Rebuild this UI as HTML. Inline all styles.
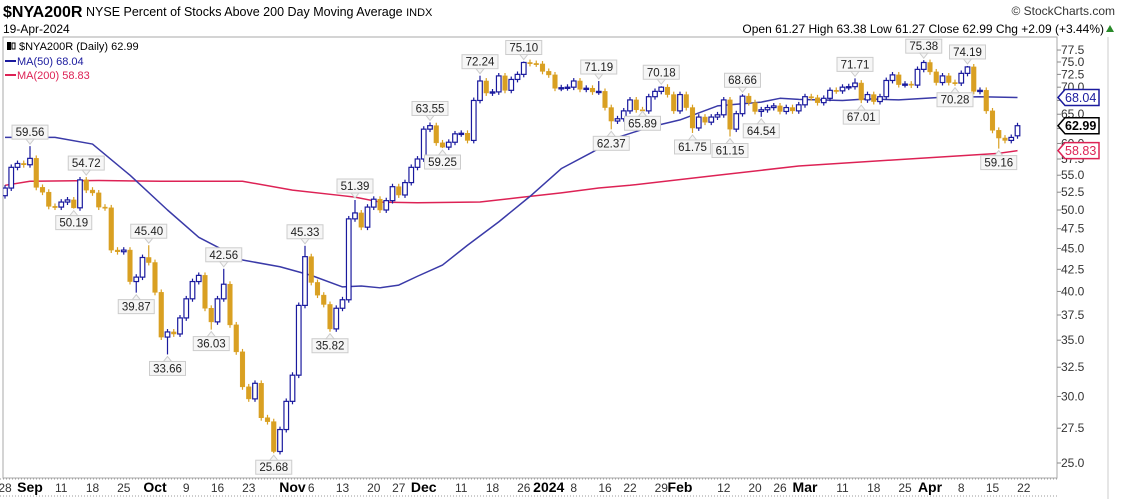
<!DOCTYPE html>
<html><head><meta charset="utf-8">
<style>
body{margin:0;background:#fff;width:1121px;height:499px;overflow:hidden;font-family:"Liberation Sans",sans-serif;}
svg{display:block}
</style></head>
<body>
<svg id="chart" width="1121" height="499" xmlns="http://www.w3.org/2000/svg" font-family="Liberation Sans, sans-serif">
  <text x="3" y="17" font-size="16" font-weight="bold" fill="#000">$NYA200R</text>
  <text x="86" y="16" font-size="12.5" fill="#000">NYSE Percent of Stocks Above 200 Day Moving Average <tspan font-size="11">INDX</tspan></text>
  <text x="1115" y="15" font-size="12" fill="#333" text-anchor="end">© StockCharts.com</text>
  <text x="3" y="33" font-size="12" fill="#000">19-Apr-2024</text>
  <text x="1104" y="33" font-size="12" fill="#000" text-anchor="end">Open 61.27  High 63.38  Low 61.27  Close 62.99  Chg +2.09 (+3.44%)</text>
  <polygon points="1106,32 1114,32 1110,25" fill="#2a8a2a"/>
  <rect x="3" y="37" width="1054" height="441" fill="#fff" stroke="#aaa" stroke-width="1"/>
  <line x1="1108" y1="37" x2="1108" y2="499" stroke="#ccc"/>
  <g id="yaxis"></g>
  <g id="xaxis"></g>
  <g id="plot" clip-path="url(#clip)"></g>
  <defs><clipPath id="clip"><rect x="3" y="37" width="1054" height="441"/></clipPath></defs>
  <g id="tags"></g>
  <g>
    <rect x="7" y="42" width="4" height="8" fill="#000"/>
    <rect x="12" y="43" width="3" height="6" fill="none" stroke="#000"/>
    <text x="19" y="50" font-size="11" fill="#000">$NYA200R (Daily) 62.99</text>
    <line x1="5" y1="61" x2="16" y2="61" stroke="#1a1a9e" stroke-width="2"/>
    <text x="17" y="65" font-size="11" fill="#1a1a9e">MA(50) 68.04</text>
    <line x1="5" y1="75" x2="16" y2="75" stroke="#dd2255" stroke-width="2"/>
    <text x="17" y="79" font-size="11" fill="#dd2255">MA(200) 58.83</text>
  </g>
</svg>
<script>
const closes=[53.1,56.2,56.8,56.6,57.6,53.2,52.5,50.5,50.4,51.1,
51.4,50.3,54.3,52.8,52.4,50.4,50.3,44.8,44.6,44.8,
41.1,41.6,43.9,43.3,39.9,35.3,35.8,35.6,37.2,39.2,
41.1,41.8,38.2,36.8,39.2,40.8,36.5,33.9,30.8,29.8,
31.1,28.3,28.0,25.8,27.4,29.6,31.8,38.5,44.0,41.0,
39.6,38.6,36.1,38.2,39.1,48.8,49.6,47.7,50.4,51.5,
50.0,51.3,53.3,52.1,53.9,56.2,57.5,62.4,63.0,60.1,
59.4,60.2,61.6,61.7,60.5,67.5,71.2,68.9,69.1,72.2,
69.4,71.5,72.5,74.9,74.7,74.6,73.1,72.4,69.8,69.9,
70.0,71.2,69.6,69.8,69.1,69.2,66.2,63.8,64.2,65.6,
67.6,65.8,65.6,68.2,69.2,70.0,68.6,65.6,68.6,66.2,
62.6,64.5,63.6,64.5,64.9,67.6,62.4,65.1,68.3,67.1,
65.5,65.8,66.2,66.5,65.5,66.2,65.6,66.7,68.2,68.0,
67.1,67.9,69.4,69.3,70.0,70.1,70.8,67.6,68.6,67.3,
68.2,71.3,72.4,70.5,70.6,70.4,73.5,74.9,73.0,70.9,
72.2,70.9,70.8,72.7,74.0,69.2,69.4,65.6,62.2,60.9,
60.5,61.0,62.99];
const firstOpen=52.0;
const lastOpen=61.27;
const annIdx=[4,11,13,21,23,26,33,35,43,48,52,56,68,70,76,83,95,97,102,105,110,116,118,121,136,137,147,152,154,159];
const annVal=[59.56,50.19,54.72,39.87,45.40,33.66,36.03,42.56,25.68,45.33,35.82,51.39,63.55,59.25,72.24,75.10,71.19,62.37,65.89,70.18,61.75,61.15,68.66,64.54,71.71,67.01,75.38,70.28,74.19,59.16];
const annType=["h","l","h","l","h","l","l","h","l","h","l","h","h","l","h","h","h","l","l","h","l","l","h","l","h","l","h","l","h","l"];
const ma50Idx=[0,8,14,20,26,31,38,44,49,54,57,60,63,66,70,74,79,84,89,94,98,103,108,114,121,124,127,134,138,143,150,156,162];
const ma50Val=[61.0,61.0,59.9,55.0,50.0,46.4,43.6,42.8,41.8,40.5,40.6,40.4,40.7,41.7,43.0,45.4,48.4,51.9,56.0,58.6,61.0,62.7,64.0,66.5,67.2,67.9,67.7,67.5,67.8,67.6,68.1,68.2,68.04];
const ma200Idx=[0,4,15,25,38,46,54,56,60,66,76,82,89,95,100,114,127,143,159,162];
const ma200Val=[53.5,54.1,54.2,54.1,54.1,52.8,52.0,51.8,51.1,51.0,51.1,51.7,52.4,53.1,53.5,55.0,56.4,57.4,58.4,58.83];
const yTicks=["25.0","27.5","30.0","32.5","35.0","37.5","40.0","42.5","45.0","47.5","50.0","52.5","55.0","57.5","60.0","62.5","65.0","67.5","70.0","72.5","75.0","77.5"];
const xLabelIdx=[0,4,9,14,19,24,29,34,39,46,49,54,59,63,67,73,78,83,87,91,96,100,105,108,115,120,124,128,134,139,144,148,153,158,163];
const xLabelText=["28","Sep","11","18","25","Oct","9","16","23","Nov","6","13","20","27","Dec","11","18","26","2024","8","16","22","29","Feb","12","20","26","Mar","11","18","25","Apr","8","15","22"];
const xLabelBold=[0,1,0,0,0,1,0,0,0,1,0,0,0,0,1,0,0,0,1,0,0,0,0,1,0,0,0,1,0,0,0,1,0,0,0];
const tagVals=[68.04,62.99,58.83];
const tagColors=["#1a1a9e","#000","#dd2255"];

const NS="http://www.w3.org/2000/svg";
const X=i=>5+i*6.25;
const Y=v=>210-365*Math.log(v/50);
function mk(tag,attrs,parent){const e=document.createElementNS(NS,tag);for(const k in attrs)e.setAttribute(k,attrs[k]);parent.appendChild(e);return e;}
const plot=document.getElementById('plot'),yax=document.getElementById('yaxis'),xax=document.getElementById('xaxis'),tags=document.getElementById('tags');

yTicks.forEach(t=>{const y=Y(parseFloat(t));
 const l=mk('line',{x1:1057,y1:y,x2:1061,y2:y,stroke:'#888'},yax);
 
 
 const tx=mk('text',{x:1061,y:y+4,'font-size':12,fill:'#333'},yax);tx.textContent=t;
 
 
});
const ab=mk('line',{x1:0,y1:479,x2:1057,y2:479,stroke:'#999','stroke-dasharray':'1,2'},xax);


const ab2=mk('line',{x1:0,y1:496,x2:1057,y2:496,stroke:'#999','stroke-dasharray':'1,2'},xax);


xLabelIdx.forEach((ix,k)=>{
 const b=xLabelBold[k];
 const tx=mk('text',{x:X(ix),y:492,'font-size':b?14:12,'font-weight':b?'bold':'normal','text-anchor':'middle',fill:b?'#000':'#333'},xax);
 tx.textContent=xLabelText[k];
 
 
});
function maLine(idx,val,color,name){
 const pts=idx.map((ix,k)=>X(ix)+','+Y(val[k])).join(' ');
 const p=mk('polyline',{points:pts,fill:'none',stroke:color,'stroke-width':1.5,'stroke-linejoin':'round'},plot);
 
 
}
maLine(ma200Idx,ma200Val,'#dd2255','ma200-line');
maLine(ma50Idx,ma50Val,'#3a3aa8','ma50-line');
closes.forEach((c,i)=>{
 const o=i===0?firstOpen:(i===closes.length-1?lastOpen:closes[i-1]);
 const prev=i===0?firstOpen:closes[i-1];
 let h=Math.max(o,c)*1.008,l=Math.min(o,c)*0.992;
 const a=annIdx.indexOf(i);
 if(a>=0){if(annType[a]==='h')h=annVal[a];else l=annVal[a];}
 const gold=c<prev;
 const col=gold?'#d9a022':'#1a1a9e';
 const hollow=!gold&&c>=o;
 const x=X(i);
 const g=mk('g',{},plot);
 
 
 mk('line',{x1:x,y1:Y(h),x2:x,y2:Y(l),stroke:col,'stroke-width':1.2},g);
 const top=Y(Math.max(o,c)),bot=Y(Math.min(o,c));
 mk('rect',{x:x-2.3,y:top,width:4.6,height:Math.max(1.2,bot-top),fill:hollow?'#fff':col,stroke:col,'stroke-width':hollow?1.2:0.5},g);
});
annIdx.forEach((ix,k)=>{
 const v=annVal[k],x=X(ix),y=Y(v),up=annType[k]==='h';
 const g=mk('g',{},plot);
 
 
 const by=up?y-21:y+7;
 mk('rect',{x:x-18,y:by,width:36,height:14,fill:'#f6f6f6',stroke:'#ccc'},g);
 const py=up?by+14:by;
 mk('polygon',{points:`${x-4},${py} ${x+4},${py} ${x},${up?py+5:py-5}`,fill:'#f6f6f6',stroke:'#ccc'},g);
 const t=mk('text',{x:x,y:by+11,'font-size':11.5,'text-anchor':'middle',fill:'#222'},g);
 t.textContent=v.toFixed(2);
});
tagVals.forEach((v,k)=>{
 const y=Y(v),c=tagColors[k];
 const g=mk('g',{},tags);
 
 
 mk('polygon',{points:`1058,${y} 1065,${y-8} 1099,${y-8} 1099,${y+8} 1065,${y+8}`,fill:'#fff',stroke:c,'stroke-width':1.5},g);
 const t=mk('text',{x:1065,y:y+4.5,'font-size':12.5,fill:c,'font-weight':k===1?'bold':'normal'},g);
 t.textContent=v.toFixed(2);
});
</script>
</body></html>
